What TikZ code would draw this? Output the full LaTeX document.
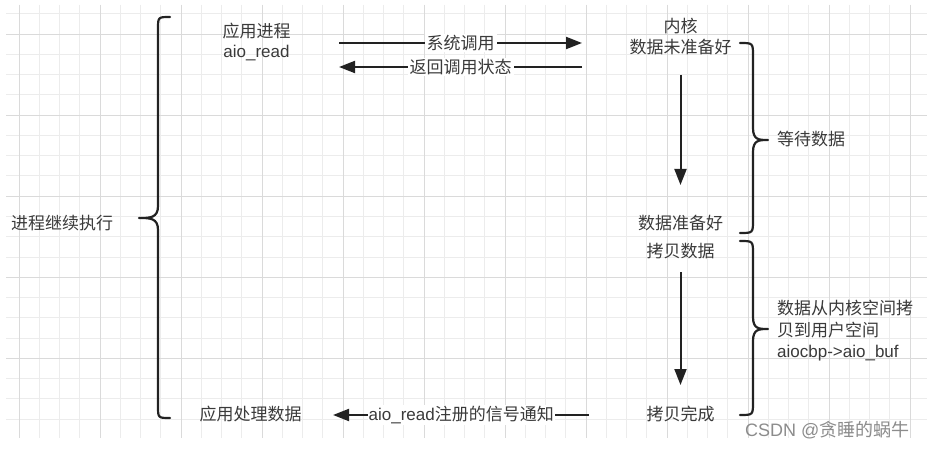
\documentclass[tikz,border=0pt]{standalone}
\usepackage{fontspec}
\setmainfont{Noto Sans CJK SC}
\newfontfamily\enfont{Liberation Sans}
\usetikzlibrary{arrows.meta}

\begin{document}
\begin{tikzpicture}[x=1pt,y=-1pt,
  lbl/.style={inner sep=0pt, outer sep=0pt, text=custcol_txt, font=\fontsize{17}{21.5}\selectfont, text height=14pt, text depth=3pt},
  en/.style={lbl, font=\fontsize{17}{21.5}\selectfont\enfont},
  tag/.style={fill=white, inner xsep=2pt, inner ysep=1pt, text=custcol_txt, font=\fontsize{17}{21.5}\selectfont},
  flow/.style={line width=2pt, custcol_line, -{Triangle[length=16pt,width=12pt]}},
  brc/.style={line width=2.2pt, custcol_line, line cap=round, line join=round}]
\definecolor{custcol_txt}{RGB}{58, 58, 58}
\definecolor{custcol_line}{RGB}{34, 34, 34}
\definecolor{custcol_grid}{RGB}{236, 236, 236}
\definecolor{custcol_major}{RGB}{218, 218, 218}
\definecolor{custcol_wm}{RGB}{140, 140, 140}
\fill [white] (0,0) rectangle (931,449);
\useasboundingbox (0,0) rectangle (931,449);
% grid paper
\foreach \gx in {0,...,44} \draw [line width=1pt, custcol_grid] (19+20.25*\gx,5) -- (19+20.25*\gx,438);
\foreach \gy in {0,...,20} \draw [line width=1pt, custcol_grid] (6,14+20.25*\gy) -- (927,14+20.25*\gy);
\foreach \gx in {0,4,...,44} \draw [line width=1pt, custcol_major] (19+20.25*\gx,5) -- (19+20.25*\gx,438);
\foreach \gy in {1,5,...,17} \draw [line width=1pt, custcol_major] (6,14+20.25*\gy) -- (927,14+20.25*\gy);
% labels
\node[lbl] (proc) at (256.5,32) {应用进程};
\node[en] (aioread) at (256.5,52) {aio\_read};
\node[lbl] (kernel) at (680.5,27) {内核};
\node[lbl] (notready) at (680.5,48) {数据未准备好};
\node[lbl] (ready) at (680.5,224) {数据准备好};
\node[lbl] (copy) at (680.5,252) {拷贝数据};
\node[lbl] (done) at (680.5,415) {拷贝完成};
\node[lbl] (handle) at (250.5,415) {应用处理数据};
\node[lbl, anchor=west] (cont) at (11,224) {进程继续执行};
\node[lbl, anchor=west] (wait) at (777,140) {等待数据};
\node[inner sep=0pt, anchor=west, align=left, text=custcol_txt, font=\fontsize{17}{21.5}\selectfont] (copyinfo) at (777,331) {数据从内核空间拷\\贝到用户空间\\{\enfont aiocbp->aio\_buf}};
\node[inner sep=0pt, anchor=west, text=custcol_wm, font=\fontsize{18}{22}\selectfont] (mark) at (745,430) {{\enfont CSDN @}贪睡的蜗牛};
% calls between process and kernel
\coordinate (callS) at (339,43);
\coordinate (callE) at (582,43);
\coordinate (retS) at (582,67);
\coordinate (retE) at (339,67);
\draw [flow] (callS) -- node[tag] {系统调用} (callE);
\draw [flow] (retS) -- node[tag] {返回调用状态} (retE);
\draw [flow, shorten <=18.5pt, shorten >=30.5pt] (notready) -- (ready);
\draw [flow, shorten <=11.5pt, shorten >=21.5pt] (copy) -- (done);
\draw [flow, shorten <=58pt, shorten >=31.5pt] (done) -- node[tag, inner xsep=1pt, pos=0.537] {{\enfont aio\_read}注册的信号通知} (handle);
% braces
\draw [brc] (170,17) .. controls (158,17) .. (158,29) -- (158,206) .. controls (158,218) and (150,218) .. (139,218) .. controls (150,218) and (158,218) .. (158,230) -- (158,406) .. controls (158,418) .. (170,418);
\draw [brc] (740,43) .. controls (753,43) .. (753,56) -- (753,128) .. controls (753,140) and (759,140) .. (768,140) .. controls (759,140) and (753,140) .. (753,152) -- (753,220) .. controls (753,233) .. (740,233);
\draw [brc] (740,241) .. controls (753,241) .. (753,254) -- (753,317) .. controls (753,329) and (759,329) .. (768,329) .. controls (759,329) and (753,329) .. (753,341) -- (753,402) .. controls (753,415) .. (740,415);
\end{tikzpicture}
\end{document}
